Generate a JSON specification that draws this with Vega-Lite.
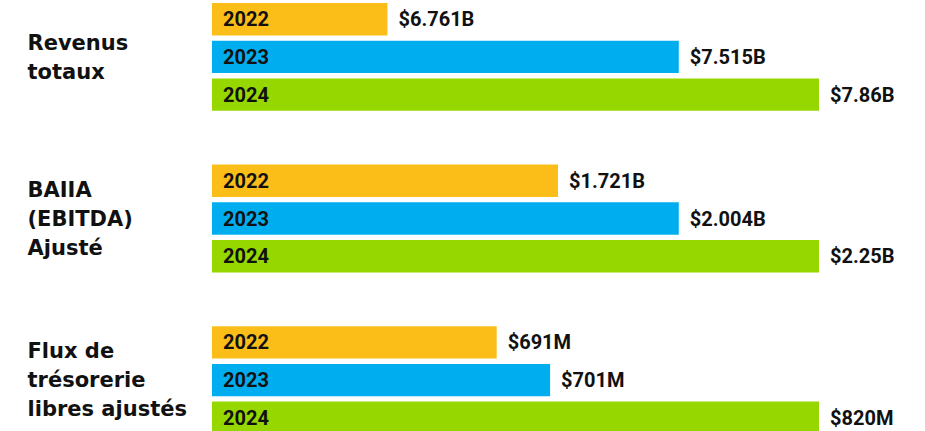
{
  "$schema": "https://vega.github.io/schema/vega-lite/v6.json",
  "autosize": {"type": "none"},
  "padding": {"left": 212, "top": 3, "right": 0, "bottom": 0},
  "width": 713,
  "height": 431,
  "background": "white",
  "config": {"view": {"stroke": null}},
  "data": {
    "values": [
      {"group": "Revenus totaux", "year": "2022", "length": 28.9, "label": "$6.761B"},
      {"group": "Revenus totaux", "year": "2023", "length": 76.9, "label": "$7.515B"},
      {"group": "Revenus totaux", "year": "2024", "length": 100, "label": "$7.86B"},
      {"group": "BAIIA (EBITDA) Ajusté", "year": "2022", "length": 57.0, "label": "$1.721B"},
      {"group": "BAIIA (EBITDA) Ajusté", "year": "2023", "length": 76.9, "label": "$2.004B"},
      {"group": "BAIIA (EBITDA) Ajusté", "year": "2024", "length": 100, "label": "$2.25B"},
      {"group": "Flux de trésorerie libres ajustés", "year": "2022", "length": 46.9, "label": "$691M"},
      {"group": "Flux de trésorerie libres ajustés", "year": "2023", "length": 55.7, "label": "$701M"},
      {"group": "Flux de trésorerie libres ajustés", "year": "2024", "length": 100, "label": "$820M"}
    ]
  },
  "encoding": {
    "y": {
      "field": "group",
      "type": "nominal",
      "sort": ["Revenus totaux", "BAIIA (EBITDA) Ajusté", "Flux de trésorerie libres ajustés"],
      "scale": {"paddingInner": 0.333, "paddingOuter": 0},
      "axis": {
        "title": null,
        "ticks": false,
        "domain": false,
        "labelAlign": "left",
        "labelBaseline": "middle",
        "labelPadding": 185,
        "labelFont": "DejaVu Sans",
        "labelFontWeight": "bold",
        "labelFontSize": 21,
        "labelColor": "#111111",
        "labelLineHeight": 29,
        "labelLimit": 400,
        "labelOverlap": false,
        "labelBound": false,
        "labelOffset": {"condition": {"test": "datum.value == 'Revenus totaux'", "value": -13}, "value": -28},
        "labelExpr": "datum.label == 'Revenus totaux' ? ['Revenus', 'totaux'] : datum.label == 'BAIIA (EBITDA) Ajusté' ? ['BAIIA', '(EBITDA)', 'Ajusté'] : ['Flux de', 'trésorerie', 'libres ajustés']"
      }
    },
    "yOffset": {
      "field": "year",
      "type": "nominal",
      "sort": ["2022", "2023", "2024"],
      "scale": {"paddingInner": 0.14, "paddingOuter": 0}
    }
  },
  "layer": [
    {
      "mark": {"type": "bar"},
      "encoding": {
        "x": {
          "field": "length",
          "type": "quantitative",
          "scale": {"domain": [0, 117.46], "nice": false, "zero": true},
          "axis": null
        },
        "color": {
          "field": "year",
          "type": "nominal",
          "scale": {"domain": ["2022", "2023", "2024"], "range": ["#FBBE19", "#00AEEF", "#97D700"]},
          "legend": null
        }
      }
    },
    {
      "mark": {"type": "text", "align": "left", "baseline": "middle", "dx": 11, "dy": 1, "font": "Roboto", "fontWeight": "bold", "fontSize": 20, "color": "#111111"},
      "encoding": {
        "x": {"datum": 0, "type": "quantitative"},
        "text": {"field": "year"}
      }
    },
    {
      "mark": {"type": "text", "align": "left", "baseline": "middle", "dx": 11, "dy": 1, "font": "Roboto", "fontWeight": "bold", "fontSize": 20, "color": "#111111"},
      "encoding": {
        "x": {"field": "length", "type": "quantitative"},
        "text": {"field": "label"}
      }
    }
  ]
}
